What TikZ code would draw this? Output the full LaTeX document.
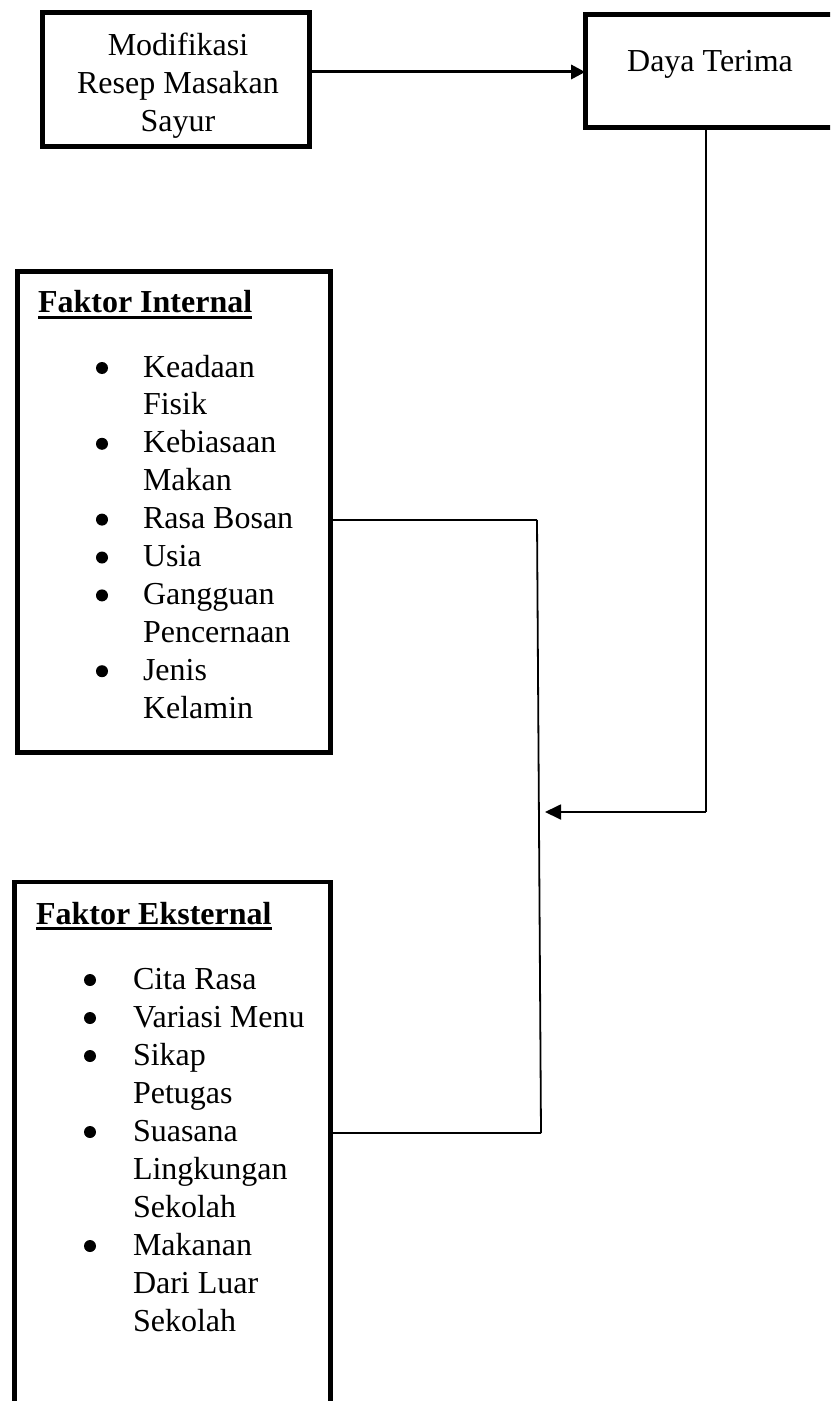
\documentclass[tikz,border=0pt]{standalone}
\usepackage{fontspec}
\setmainfont{Liberation Serif}
\usetikzlibrary{arrows.meta,calc}
\newcommand{\titleul}[1]{\setbox0\hbox{\bfseries #1}\rlap{\raisebox{-3pt}{\rule{\wd0}{1.3pt}}}\box0}
\begin{document}
\begin{tikzpicture}[x=0.5pt,y=-0.5pt,
  every node/.style={font=\fontsize{16}{19}\selectfont},
  bigbox/.style={draw, line width=2.3pt, inner sep=0pt, outer sep=0pt},
  txt/.style={anchor=base west, inner sep=0pt, outer sep=0pt},
  ctxt/.style={anchor=base, inner sep=0pt, outer sep=0pt},
  dot/.style={circle, fill=black, inner sep=0pt, minimum size=6pt},
  conn/.style={line width=0.9pt},
  toparrow/.style={line width=1.5pt, -{Triangle[length=7pt,width=7pt]}},
  sidearrow/.style={line width=0.9pt, -{Triangle[length=8pt,width=7.5pt]}}]
\useasboundingbox (0,0) rectangle (830,1401);
\clip (0,0) rectangle (830,1401);

% boxes
\node[bigbox, minimum width=133.75pt, minimum height=67.25pt] (mod) at (176,79.5) {};
\node[bigbox, minimum width=137.4pt, minimum height=56.75pt] (daya) at (722.6,71) {};
\node[bigbox, minimum width=156.75pt, minimum height=240.75pt] (int) at (174,512) {};
\node[bigbox, minimum width=158.25pt, minimum height=279pt] (ext) at (172.5,1161) {};

% texts in top boxes
\node[ctxt] (m1) at (178,56) {Modifikasi};
\node[ctxt] (m2) at (178,94) {Resep Masakan};
\node[ctxt] (m3) at (178,132) {Sayur};
\node[ctxt] (dt) at (710,72) {Daya Terima};

% titles
\node[txt] (tint) at (38,313) {\titleul{Faktor Internal}};
\node[txt] (text) at (36,924) {\titleul{Faktor Eksternal}};

% internal list
\foreach \t [count=\k] in {Keadaan,Fisik,Kebiasaan,Makan,Rasa Bosan,Usia,Gangguan,Pencernaan,Jenis,Kelamin}
  \node[txt] (in\k) at (143,{377+37.9*(\k-1)}) {\t};
\foreach \k in {1,3,5,6,7,9}
  \node[dot] (inb\k) at (102,{368+37.9*(\k-1)}) {};

% external list
\foreach \t [count=\k] in {Cita Rasa,Variasi Menu,Sikap,Petugas,Suasana,Lingkungan,Sekolah,Makanan,Dari Luar,Sekolah}
  \node[txt] (ex\k) at (133,{989+38*(\k-1)}) {\t};
\foreach \k in {1,2,3,5,8}
  \node[dot] (exb\k) at (90,{980+38*(\k-1)}) {};

% connectors
\coordinate (ra) at (706,812);
\coordinate (rtip) at (545,812);
\coordinate (jA) at (537,520);
\coordinate (jB) at (541,1133);
\coordinate (ay) at (0,72);

\draw[toparrow] (mod.east |- ay) -- (daya.west |- ay);
\draw[conn] (daya.south -| ra) -- (ra);
\draw[sidearrow] (ra) -- (rtip);
\draw[conn] (int.east |- jA) -- (jA);
\draw[conn] (jA) -- (jB);
\draw[conn] (jB) -- (ext.east |- jB);
\end{tikzpicture}
\end{document}
